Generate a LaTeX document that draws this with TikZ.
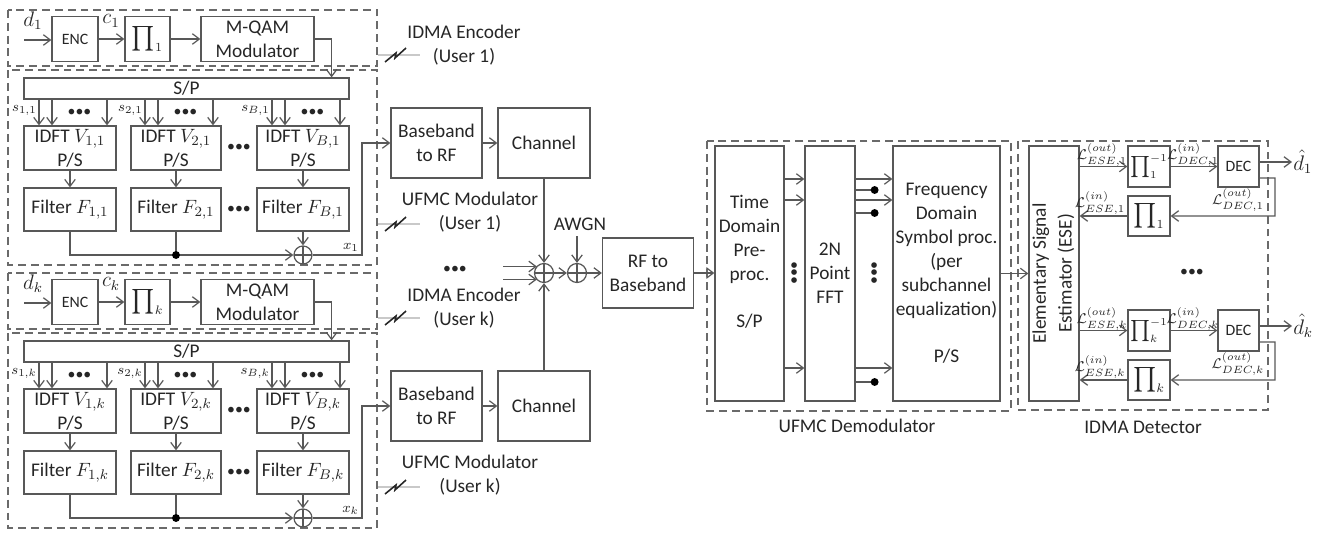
\documentclass[tikz,border=0pt]{standalone}
\usepackage{amsmath,amssymb}
\usepackage{graphicx}
\usepackage{fontspec}
\setmainfont{Carlito}
\usetikzlibrary{arrows.meta, calc, positioning}
\definecolor{lngray}{HTML}{585858}
\definecolor{txgray}{HTML}{262626}
\definecolor{dshgray}{HTML}{6A6A6A}
\definecolor{boltgray}{HTML}{C9C9C9}

\begin{document}
\begin{tikzpicture}[
  x=0.02cm, y=-0.02cm,
  every node/.style={text=txgray},
  wh/.style 2 args={minimum width=#1*0.02cm, minimum height=#2*0.02cm},
  blk/.style={draw=lngray, line width=0.7pt, inner sep=0pt, align=center,
    font=\fontsize{11}{13.6}\selectfont},
  smallblk/.style={blk, font=\fontsize{9}{11}\selectfont},
  perm/.style={blk, font=\fontsize{14}{14}\selectfont},
  arr/.style={lngray, line width=0.7pt, -{Straight Barb[length=4pt, width=6pt]}},
  wire/.style={lngray, line width=0.7pt},
  grp/.style={dshgray, line width=0.8pt, dash pattern=on 4.5pt off 2.8pt},
  adder/.style={circle, draw=lngray, line width=0.7pt, inner sep=0pt,
    minimum size=#1*0.02cm,
    path picture={\draw[lngray, line width=0.6pt]
      (path picture bounding box.north) -- (path picture bounding box.south)
      (path picture bounding box.west) -- (path picture bounding box.east);}},
  junc/.style={circle, fill=black, inner sep=0pt, minimum size=4.5pt},
  grplab/.style={font=\fontsize{11}{13.6}\selectfont, align=center, inner sep=0pt},
  sig/.style={font=\footnotesize, inner sep=0.5pt},
  sym/.style={font=\fontsize{12}{14}\selectfont, inner sep=0.5pt},
  llr/.style={font=\footnotesize, inner sep=0pt},
  dts/.style={font=\fontsize{9}{9}\selectfont, inner sep=0pt},
  bolt/.style={black!85, line width=0.9pt, line join=miter},
]
\useasboundingbox (0,0) rectangle (1321,534);

% ===== Transmitters: user 1 and user k =====
\foreach \u/\dy in {1/0, k/263} {
\begin{scope}[shift={(0,\dy)}]
  % IDMA encoder
  \draw[grp] (8,10) rectangle (377,66);
  \coordinate (din\u) at (24,40);
  \node[smallblk, wh={46}{45}] (enc\u) at (75,39) {ENC};
  \node[perm, wh={45}{45}] (pi\u) at (147.5,39) {$\prod\nolimits_{\scriptscriptstyle\u}$};
  \node[blk, wh={113}{45}] (qam\u) at (257.5,39) {M-QAM\\Modulator};
  \node[sym] (dlab\u) at (33,21) {$d_\u$};
  \node[sym] (clab\u) at (111,21) {$c_\u$};
  \draw[arr] (din\u) -- (enc\u.west |- din\u);
  \draw[arr] (enc\u) -- (pi\u);
  \draw[arr] (pi\u) -- (qam\u);

  % UFMC modulator
  \draw[grp] (8,70) rectangle (377,265);
  \node[blk, wh={325}{21}] (sp\u) at (186.5,88.5) {S/P};
  \draw[arr] (qam\u.east) -| ($(sp\u.north east)+(-18,0)$);

  % Subbands
  \foreach \bj/\bx/\bw/\bn in {a/70/92/1, b/176/90/2, c/303/92/B} {
    \node[blk, wh={\bw}{44}] (idft\u\bj) at (\bx,148) {IDFT $V_{\bn,\u}$\\P/S};
    \node[blk, wh={\bw}{43}] (filt\u\bj) at (\bx,209.5) {Filter $F_{\bn,\u}$};
    \draw[arr] (idft\u\bj) -- (filt\u\bj);
    \node[sig, anchor=east] (slab\u\bj) at ($(idft\u\bj.north)+(-32,-15)$) {$s_{\bn,\u}$};
    \node[dts] (sdot\u\bj) at ($(idft\u\bj.north)+(9.5,-13)$) {•••};
    \foreach \dx in {-31,-18,37}
      \draw[arr] ($(idft\u\bj.north)+(\dx,-27)$) -- ($(idft\u\bj.north)+(\dx,0)$);
  }
  \node[dts] (idots\u) at ($(idft\u b.east)!0.5!(idft\u c.west)$) {•••};
  \node[dts] (fdots\u) at ($(filt\u b.east)!0.5!(filt\u c.west)$) {•••};

  % Baseband to RF and channel
  \node[blk, wh={91}{70}] (bb\u) at (436.5,143) {Baseband\\to RF};
  \node[blk, wh={92}{70}] (ch\u) at (544,143) {Channel};
  \draw[arr] (bb\u) -- (ch\u);

  % Subband sum
  \node[adder=18] (sum\u) at (303,255) {};
  \coordinate (xo\u) at (362,255);
  \draw[arr] (filt\u c) -- (sum\u);
  \draw[arr] (filt\u a.south) |- (sum\u.west);
  \draw[wire] (filt\u b.south) -- (filt\u b.south |- sum\u.west) node[junc] (jn\u) {};
  \draw[arr] (sum\u.east) -- (xo\u) |- (bb\u.west);
  \node[sig, anchor=south east] (xlab\u) at ($(xo\u)+(-2,-2)$) {$x_\u$};

  % Labels with links
  \node[grplab] (enclab\u) at (464,45) {IDMA Encoder\\(User \u)};
  \node[grplab] (modlab\u) at (470,212) {UFMC Modulator\\(User \u)};
  \foreach \by in {55,224} {
    \draw[boltgray, line width=0.8pt] (378,\by) -- (420,\by);
    \draw[bolt] (385,\by+7) -- (396,\by-2) -- (395,\by+3) -- (406,\by-7);
  }
\end{scope}
}

% ===== Channel combining =====
\node[adder=19] (sumch) at (544,273) {};
\node[adder=19] (sumn) at (577,273) {};
\node[blk, wh={91}{70}] (rf) at (648,273) {RF to\\Baseband};
\coordinate (inA) at (503,266.5);
\coordinate (inB) at (503,279.5);
\coordinate (nz) at (577,236);
\node[dts] (udots) at (455,270) {•••};
\node[grplab, anchor=south] (awgn) at (580,231) {AWGN};
\draw[arr] (ch1) -- (sumch);
\draw[arr] (chk) -- (sumch);
\draw[arr] (inA) -- (inA -| sumch.135);
\draw[arr] (inB) -- (inB -| sumch.225);
\draw[arr] (nz) -- (sumn);
\draw[arr] (sumch) -- (sumn);
\draw[arr] (sumn) -- (rf);

% ===== UFMC demodulator =====
\draw[grp] (707,141) rectangle (1011,411);
\node[blk, wh={69}{255}] (td) at (749.5,273.5) {Time\\Domain\\Pre-\\proc.\\~\\S/P\\~};
\node[blk, wh={50}{255}] (fft) at (830,273.5) {2N\\Point\\FFT};
\node[blk, wh={107}{255}] (fd) at (946.5,273.5)
  {Frequency\\Domain\\Symbol proc.\\(per\\subchannel\\equalization)\\~\\P/S};
\draw[arr] (rf.east) -- (rf.east -| td.west);
\foreach \dy in {-94.5,-73.5,94.5} {
  \draw[arr] ($(td.east)+(0,\dy)$) -- ($(fft.west)+(0,\dy)$);
  \draw[arr] ($(fft.east)+(0,\dy)$) -- ($(fd.west)+(0,\dy)$);
}
\foreach \dy/\m in {-83.5/a, -60.5/b, 108.5/c}
  \draw[wire] ($(fft.east)+(0,\dy)$) -- ++(19,0) node[junc] (fdot\m) {};
\node[dts, rotate=90] (vdotsA) at (795,273) {•••};
\node[dts, rotate=90] (vdotsB) at (875,273) {•••};
\node[grplab] (demlab) at (857,426) {UFMC Demodulator};

% ===== IDMA detector =====
\draw[grp] (1018,141) rectangle (1268,410);
\node[blk, wh={50}{255}] (ese) at (1054,273.5)
  {\rotatebox{90}{\begin{tabular}{@{}c@{}}Elementary Signal\\[1pt]Estimator (ESE)\end{tabular}}};
\draw[arr] (fd.east) -- (ese.west);
\foreach \u/\dy in {1/0, k/164} {
\begin{scope}[shift={(0,\dy)}]
  \node[perm, font=\fontsize{12}{12}\selectfont, wh={42}{41}] (pinv\u) at (1149,166.5)
    {$\prod\nolimits^{\scriptscriptstyle -1}_{\scriptscriptstyle\u}$};
  \node[smallblk, wh={41}{41}] (dec\u) at (1238.5,166.5) {DEC};
  \node[perm, wh={42}{40}] (pid\u) at (1149,216) {$\prod\nolimits_{\scriptscriptstyle\u}$};
  \node[sym, anchor=west] (dhat\u) at (1292,162) {$\hat{d}_\u$};
  \coordinate (fb\u) at (1275,178);
  \draw[arr] (ese.east |- pinv\u) -- (pinv\u);
  \draw[arr] (pinv\u) -- (dec\u);
  \draw[arr] (dec\u.east |- dhat\u.west) -- (dhat\u.west);
  \draw[arr] ($(dec\u.east)+(0,11.5)$) -- (fb\u) |- (pid\u.east);
  \draw[arr] (pid\u) -- (ese.east |- pid\u);
  % LLR labels
  \node[llr] (lesout\u) at (1102,155) {$\mathcal{L}^{(out)}_{ESE,\u}$};
  \node[llr] (ldcin\u) at (1193,155) {$\mathcal{L}^{(in)}_{DEC,\u}$};
  \node[llr] (lesin\u) at (1100,203) {$\mathcal{L}^{(in)}_{ESE,\u}$};
  \node[llr] (ldcout\u) at (1238,200) {$\mathcal{L}^{(out)}_{DEC,\u}$};
\end{scope}
}
\node[dts] (ddots) at (1192,273) {•••};
\node[grplab] (detlab) at (1143,427) {IDMA Detector};

\end{tikzpicture}
\end{document}
